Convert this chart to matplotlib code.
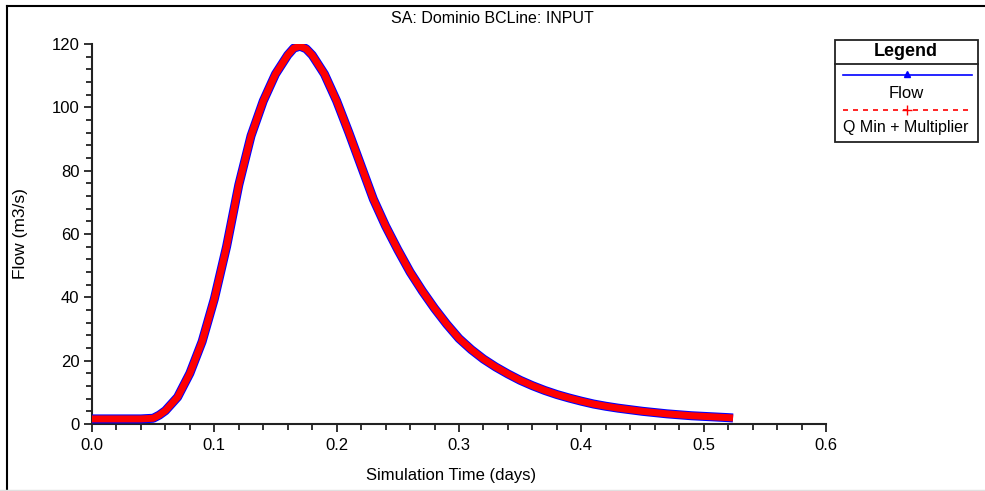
import matplotlib
matplotlib.use("Agg")
import matplotlib.pyplot as plt
from matplotlib.lines import Line2D
from matplotlib.patches import Rectangle
from matplotlib.ticker import MultipleLocator

plt.rcParams['font.family'] = ['Liberation Sans', 'DejaVu Sans']

# Datos (tiempo en dias, caudal en m3/s)
tiempo = [0.00, 0.01, 0.02, 0.03, 0.04, 0.05, 0.055, 0.06, 0.07, 0.08,
          0.09, 0.10, 0.11, 0.12, 0.13, 0.14, 0.15, 0.16, 0.165, 0.17,
          0.175, 0.18, 0.19, 0.20, 0.21, 0.22, 0.23, 0.24, 0.25, 0.26,
          0.27, 0.28, 0.29, 0.30, 0.31, 0.32, 0.33, 0.34, 0.35, 0.36,
          0.37, 0.38, 0.39, 0.40, 0.41, 0.42, 0.43, 0.44, 0.45, 0.46,
          0.47, 0.48, 0.49, 0.50, 0.51, 0.52, 0.524]
flow = [1.6, 1.6, 1.6, 1.6, 1.6, 1.8, 2.8, 4.2, 8.5, 16.0,
        26.0, 39.5, 56.0, 75.5, 91.0, 102.0, 110.5, 116.5, 118.7, 119.3,
        118.5, 116.5, 110.5, 102.0, 92.0, 81.5, 71.0, 62.5, 55.0, 48.0,
        42.0, 36.5, 31.5, 27.0, 23.5, 20.5, 18.0, 15.8, 13.8, 12.1,
        10.6, 9.3, 8.2, 7.2, 6.3, 5.6, 5.0, 4.5, 4.0, 3.6,
        3.2, 2.9, 2.6, 2.4, 2.2, 2.0, 1.9]
q_min_mult = list(flow)  # la serie "Q Min + Multiplier" coincide con Flow

fig = plt.figure(figsize=(9.85, 4.91), dpi=100)
ax = fig.add_axes([0.0934, 0.1365, 0.7452, 0.7739])

ax.plot(tiempo, flow, color='#0000ff', lw=6.5, solid_capstyle='butt',
        solid_joinstyle='round', zorder=3)
ax.plot(tiempo, q_min_mult, color='#ff0000', lw=5.0, solid_capstyle='butt',
        solid_joinstyle='round', zorder=4)

ax.set_xlim(0, 0.6)
ax.set_ylim(0, 120)
ax.xaxis.set_major_locator(MultipleLocator(0.1))
ax.xaxis.set_minor_locator(MultipleLocator(0.02))
ax.yaxis.set_major_locator(MultipleLocator(20))
ax.yaxis.set_minor_locator(MultipleLocator(4))
ax.xaxis.set_major_formatter(plt.FuncFormatter(lambda v, p: f'{v:.1f}'))
ax.spines['top'].set_visible(False)
ax.spines['right'].set_visible(False)
for s in ('left', 'bottom'):
    ax.spines[s].set_linewidth(1.5)
    ax.spines[s].set_color('#222222')
ax.tick_params(which='major', length=6, width=1.3, labelsize=12, color='#222222')
ax.tick_params(which='minor', length=4, width=1.3, color='#222222')
ax.tick_params(axis='x', pad=4)
ax.tick_params(axis='y', pad=3)
ax.set_xlabel('Simulation Time (days)', fontsize=12)
ax.set_ylabel('Flow (m3/s)', fontsize=12.5)
ax.xaxis.set_label_coords(0.489, -0.115)
ax.yaxis.set_label_coords(-0.087, 0.5)
fig.text(0.5, 0.963, 'SA: Dominio BCLine: INPUT', ha='center', va='center', fontsize=11.5)

# Marco exterior de la figura
fig.add_artist(Line2D([7/985, 7/985], [0, 1 - 6/491], color='black', lw=1.5))
fig.add_artist(Line2D([7/985, 1], [1 - 6/491, 1 - 6/491], color='black', lw=1.5))
fig.add_artist(Line2D([0, 1], [1/491, 1/491], color='#e0e0e0', lw=1))

# Leyenda dibujada a mano
W, H = 985, 491
def fx(px):
    return px / W
def fy(py):
    return 1 - py / H

fig.add_artist(Rectangle((fx(835), fy(142)), fx(978) - fx(835), fy(40) - fy(142),
                         fill=False, ec='#222222', lw=1.3))
fig.add_artist(Line2D([fx(835), fx(978)], [fy(64), fy(64)], color='#222222', lw=1.3))
fig.text(fx(906), fy(52), 'Legend', ha='center', va='center', fontsize=13, fontweight='bold')
fig.add_artist(Line2D([fx(843), fx(972)], [fy(75), fy(75)], color='#0000ff', lw=1.2))
fig.add_artist(Line2D([fx(907)], [fy(74)], color='#0000ff', marker='^', ms=5, lw=0))
fig.text(fx(906), fy(93), 'Flow', ha='center', va='center', fontsize=12)
fig.add_artist(Line2D([fx(843), fx(972)], [fy(110), fy(110)], color='#ff0000', lw=1.2,
                      ls=(0, (3, 3))))
fig.add_artist(Line2D([fx(907)], [fy(110)], color='#ff0000', marker='+', ms=7, lw=0))
fig.text(fx(906), fy(128), 'Q Min + Multiplier', ha='center', va='center', fontsize=11.5)

fig.savefig('out.png', dpi=100)
